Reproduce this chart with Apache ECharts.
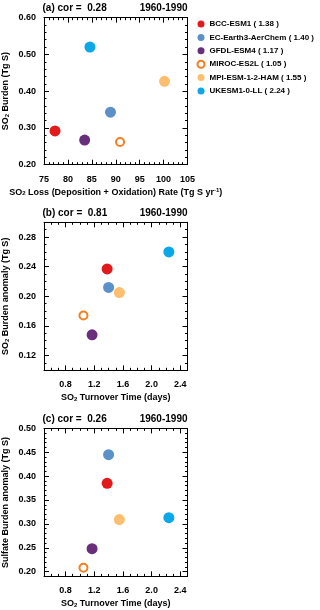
<!DOCTYPE html>
<html>
<head>
<meta charset="utf-8">
<script src="https://cdn.jsdelivr.net/npm/echarts@6/dist/echarts.min.js"></script>
<style>
  html, body { margin: 0; padding: 0; background: #fff; }
  #chart { width: 320px; height: 610px; }
</style>
</head>
<body>
<div id="chart"></div>
<script>
// models and their SO2 turnover time (days), shown in the legend
const models = ["BCC-ESM1", "EC-Earth3-AerChem", "GFDL-ESM4", "MIROC-ES2L", "MPI-ESM-1-2-HAM", "UKESM1-0-LL"];
const turnover = [1.38, 1.40, 1.17, 1.05, 1.55, 2.24];
const colors = ["#e31a1c", "#5b90c8", "#6a2f7c", "#f47f20", "#fdbf6f", "#0aa8e8"];

// panel (a)
const so2Loss = [77.3, 88.9, 83.5, 90.9, 100.2, 84.6];
const so2Burden = [0.292, 0.343, 0.267, 0.262, 0.427, 0.520];
// panel (b)
const so2BurdenAnom = [0.237, 0.212, 0.148, 0.174, 0.205, 0.260];
// panel (c)
const sulfateBurdenAnom = [0.385, 0.445, 0.248, 0.208, 0.309, 0.313];

const cors = ["0.28", "0.81", "0.26"];
const period = "1960-1990";

// tick labels
const ticksA_x = [75, 80, 85, 90, 95, 100, 105];
const ticksA_y = [0.20, 0.30, 0.40, 0.50, 0.60];
const ticksT_x = [0.8, 1.2, 1.6, 2.0, 2.4];
const ticksB_y = [0.12, 0.16, 0.20, 0.24, 0.28];
const ticksC_y = [0.20, 0.25, 0.30, 0.35, 0.40, 0.45, 0.50];

const FONT = "Liberation Sans";
const rich = {
  s: { fontSize: 6, fontWeight: "bold", fontFamily: FONT, verticalAlign: "bottom", lineHeight: 6, color: "#000" },
  p: { fontSize: 6, fontWeight: "bold", fontFamily: FONT, verticalAlign: "top", lineHeight: 6, color: "#000" }
};

const panels = [
  {
    grid: { left: 42.5, top: 17.7, width: 145, height: 147 },
    x: { min: 75, max: 105, minor: 1, ticks: ticksA_x, dec: 0,
         name: "SO{s|2} Loss (Deposition + Oxidation) Rate (Tg S yr{p|-1})" },
    y: { min: 0.2, max: 0.6, minor: 0.02, ticks: ticksA_y, dec: 2, name: "SO{s|2} Burden (Tg S)" },
    xs: so2Loss, ys: so2Burden, label: "(a)"
  },
  {
    grid: { left: 42.5, top: 222.3, width: 145, height: 148 },
    x: { min: 0.5, max: 2.5, minor: 0.1, ticks: ticksT_x, dec: 1, name: "SO{s|2} Turnover Time (days)" },
    y: { min: 0.10, max: 0.30, minor: 0.01, ticks: ticksB_y, dec: 2, name: "SO{s|2} Burden anomaly (Tg S)" },
    xs: turnover, ys: so2BurdenAnom, label: "(b)"
  },
  {
    grid: { left: 42.5, top: 428.4, width: 145, height: 148 },
    x: { min: 0.5, max: 2.5, minor: 0.1, ticks: ticksT_x, dec: 1, name: "SO{s|2} Turnover Time (days)" },
    y: { min: 0.19, max: 0.50, minor: 0.01, ticks: ticksC_y, dec: 2, name: "Sulfate Burden anomaly (Tg S)" },
    xs: turnover, ys: sulfateBurdenAnom, label: "(c)"
  }
];

const grids = [], xAxes = [], yAxes = [], series = [], titles = [];

// four axes per side pair: main (line, major ticks, labels), minor ticks, mirror major, mirror minor
function addAxes(list, gi, a, isX) {
  const pos = isX ? ["bottom", "top"] : ["left", "right"];
  const base = { type: "value", gridIndex: gi, min: a.min, max: a.max, splitLine: { show: false } };
  const idx = list.length;
  list.push(Object.assign({}, base, {
    position: pos[0],
    name: a.name,
    nameLocation: "middle",
    nameGap: isX ? 23 : 34,
    nameTextStyle: { fontFamily: FONT, fontSize: 9, fontWeight: "bold", color: "#000", rich: rich },
    axisLine: { show: true, onZero: false, lineStyle: { color: "#000", width: 1 } },
    axisTick: { show: true, inside: true, length: 5, customValues: a.ticks, lineStyle: { color: "#000" } },
    axisLabel: {
      show: true, customValues: a.ticks, margin: isX ? 10 : 8,
      fontFamily: FONT, fontSize: 9, fontWeight: "bold", color: "#000",
      formatter: v => v.toFixed(a.dec)
    }
  }));
  list.push(Object.assign({}, base, {
    position: pos[0], interval: a.minor,
    axisLine: { show: false, onZero: false },
    axisTick: { show: true, inside: true, length: 2.5, lineStyle: { color: "#000" } },
    axisLabel: { show: false }
  }));
  list.push(Object.assign({}, base, {
    position: pos[1],
    axisLine: { show: true, onZero: false, lineStyle: { color: "#000", width: 1 } },
    axisTick: { show: true, inside: true, length: 5, customValues: a.ticks, lineStyle: { color: "#000" } },
    axisLabel: { show: false }
  }));
  list.push(Object.assign({}, base, {
    position: pos[1], interval: a.minor,
    axisLine: { show: false, onZero: false },
    axisTick: { show: true, inside: true, length: 2.5, lineStyle: { color: "#000" } },
    axisLabel: { show: false }
  }));
  return idx;
}

panels.forEach((p, gi) => {
  grids.push(Object.assign({ containLabel: false }, p.grid));
  const xi = addAxes(xAxes, gi, p.x, true);
  const yi = addAxes(yAxes, gi, p.y, false);

  models.forEach((m, i) => {
    const open = m === "MIROC-ES2L";
    series.push({
      name: m,
      type: "scatter",
      xAxisIndex: xi,
      yAxisIndex: yi,
      symbol: "circle",
      symbolSize: open ? 8 : 11,
      itemStyle: open
        ? { color: "#ffffff", borderColor: colors[i], borderWidth: 2, opacity: 1 }
        : { color: colors[i], opacity: 1 },
      data: [[p.xs[i], p.ys[i]]]
    });
  });

  const ts = { fontFamily: FONT, fontSize: 10, fontWeight: "bold", color: "#000" };
  titles.push({ text: p.label + " cor =  " + cors[gi], left: p.grid.left, top: p.grid.top - 14, textStyle: ts, padding: 0 });
  titles.push({ text: period, right: 320 - p.grid.left - p.grid.width, top: p.grid.top - 14, textStyle: ts, padding: 0 });
});

const chart = echarts.init(document.getElementById("chart"), null, { renderer: "canvas" });
chart.setOption({
  animation: false,
  backgroundColor: "#fff",
  title: titles,
  grid: grids,
  xAxis: xAxes,
  yAxis: yAxes,
  legend: {
    orient: "vertical",
    left: 196.5,
    top: 19,
    itemWidth: 7,
    itemHeight: 7,
    itemGap: 3.4,
    padding: 0,
    data: models.map(m => ({ name: m, icon: "circle" })),
    formatter: name => name + " ( " + turnover[models.indexOf(name)].toFixed(2) + " )",
    textStyle: { fontFamily: FONT, fontSize: 8, lineHeight: 10, color: "#000", fontWeight: "bold" }
  },
  series: series
});
</script>
</body>
</html>
